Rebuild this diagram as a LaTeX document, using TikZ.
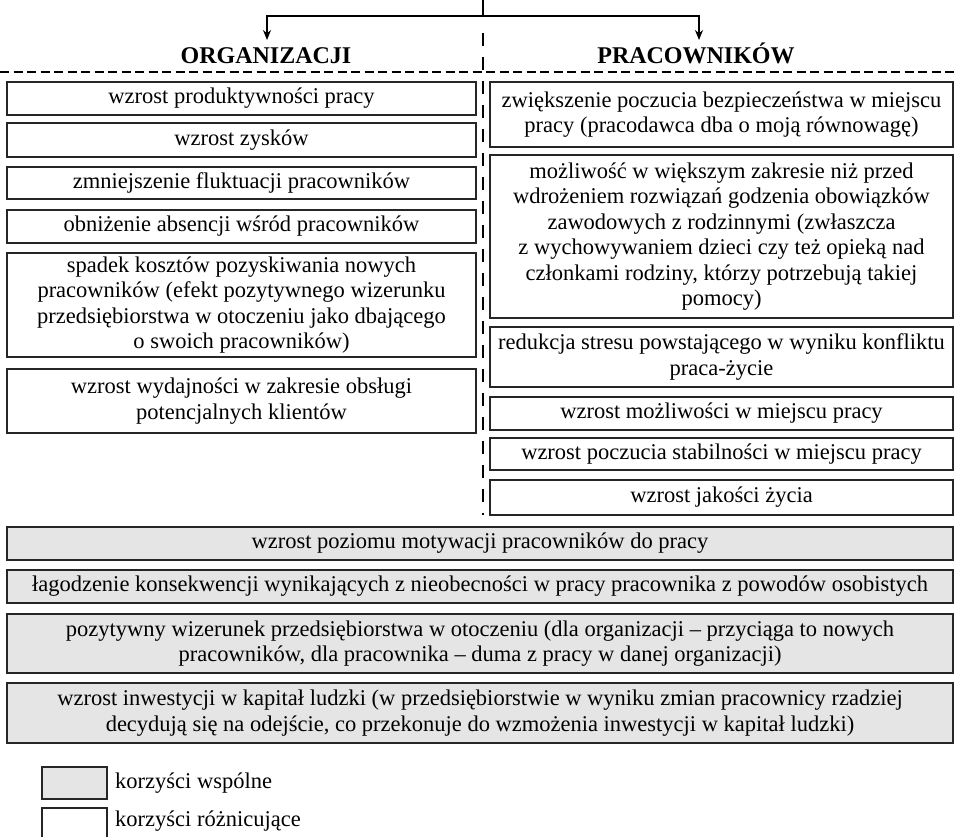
\documentclass[tikz,border=0pt]{standalone}
\usepackage{fontspec}
\setmainfont{Liberation Serif}
\usetikzlibrary{arrows.meta}
\begin{document}
\begin{tikzpicture}[x=1pt,y=-1pt,
    benefit/.style={draw=black!85, line width=1.1pt, align=center, inner sep=0pt,
      font=\fontsize{22.5}{25.5}\selectfont},
    orgbox/.style={benefit, minimum width=469pt},
    pracbox/.style={benefit, minimum width=463pt},
    shared/.style={benefit, fill=black!10},
    widebox/.style={shared, minimum width=946pt},
    heading/.style={font=\fontsize{24}{28}\selectfont\bfseries, inner sep=0pt, anchor=base},
    keytext/.style={font=\fontsize{22.5}{25}\selectfont, anchor=west, inner sep=0pt},
    link/.style={line width=1.2pt},
    >={Stealth[length=10pt, width=8pt]}]
    \useasboundingbox (0,0) rectangle (955,836);

    % split arrow
    \coordinate (root) at (483,0);
    \coordinate (split) at (483,16);
    \coordinate (orgtip) at (267,40);
    \coordinate (practip) at (699,40);
    \draw[link] (root) -- (split);
    \draw[link,->] (split) -| (orgtip);
    \draw[link,->] (split) -| (practip);
    \node[heading] (orghead) at (266,63) {ORGANIZACJI};
    \node[heading] (prachead) at (696,63) {PRACOWNIKÓW};

    % dashed separators
    \coordinate (rulel) at (0,72);
    \coordinate (ruler) at (955,72);
    \coordinate (splittop) at (483,33);
    \coordinate (splitbot) at (483,515);
    \draw[line width=1.4pt, dash pattern=on 9pt off 4.5pt] (rulel) -- (ruler);
    \draw[line width=2.4pt, dash pattern=on 13pt off 11pt] (splittop) -- (splitbot);

    % left column
    \node[orgbox, minimum height=33pt] (org1) at (241.5,98.5) {wzrost produktywności pracy};
    \node[orgbox, minimum height=34pt] (org2) at (241.5,140) {wzrost zysków};
    \node[orgbox, minimum height=32pt] (org3) at (241.5,183) {zmniejszenie fluktuacji pracowników};
    \node[orgbox, minimum height=33pt] (org4) at (241.5,226.5) {obniżenie absencji wśród pracowników};
    \node[orgbox, minimum height=104pt] (org5) at (241.5,305) {spadek kosztów pozyskiwania nowych\\pracowników (efekt pozytywnego wizerunku\\przedsiębiorstwa w otoczeniu jako dbającego\\o swoich pracowników)};
    \node[orgbox, minimum height=64pt] (org6) at (241.5,401) {wzrost wydajności w zakresie obsługi\\potencjalnych klientów};

    % right column
    \node[pracbox, minimum height=65pt] (prac1) at (721.5,114.5) {zwiększenie poczucia bezpieczeństwa w miejscu\\pracy (pracodawca dba o moją równowagę)};
    \node[pracbox, minimum height=163pt] (prac2) at (721.5,236.5) {możliwość w większym zakresie niż przed\\wdrożeniem rozwiązań godzenia obowiązków\\zawodowych z rodzinnymi (zwłaszcza\\z wychowywaniem dzieci czy też opieką nad\\członkami rodziny, którzy potrzebują takiej\\pomocy)};
    \node[pracbox, minimum height=60pt] (prac3) at (721.5,357) {redukcja stresu powstającego w wyniku konfliktu\\praca-życie};
    \node[pracbox, minimum height=33pt] (prac4) at (721.5,413.5) {wzrost możliwości w miejscu pracy};
    \node[pracbox, minimum height=32pt] (prac5) at (721.5,454) {wzrost poczucia stabilności w miejscu pracy};
    \node[pracbox, minimum height=35pt] (prac6) at (721.5,497.5) {wzrost jakości życia};

    % common benefits
    \node[widebox, minimum height=33pt] (both1) at (480,543.5) {wzrost poziomu motywacji pracowników do pracy};
    \node[widebox, minimum height=33pt] (both2) at (480,586.5) {łagodzenie konsekwencji wynikających z nieobecności w pracy pracownika z powodów osobistych};
    \node[widebox, minimum height=59pt] (both3) at (480,643.5) {pozytywny wizerunek przedsiębiorstwa w otoczeniu (dla organizacji – przyciąga to nowych\\pracowników, dla pracownika – duma z pracy w danej organizacji)};
    \node[widebox, minimum height=60pt] (both4) at (480,713) {wzrost inwestycji w kapitał ludzki (w przedsiębiorstwie w wyniku zmian pracownicy rzadziej\\decydują się na odejście, co przekonuje do wzmożenia inwestycji w kapitał ludzki)};

    % legend
    \node[shared, minimum width=65pt, minimum height=32pt] (keyshared) at (74.5,783) {};
    \node[benefit, minimum width=65pt, minimum height=30pt] (keydiff) at (74.5,823) {};
    \node[keytext] (keysharedtxt) at (115,783) {korzyści wspólne};
    \node[keytext] (keydifftxt) at (115,821) {korzyści różnicujące};
\end{tikzpicture}
\end{document}
